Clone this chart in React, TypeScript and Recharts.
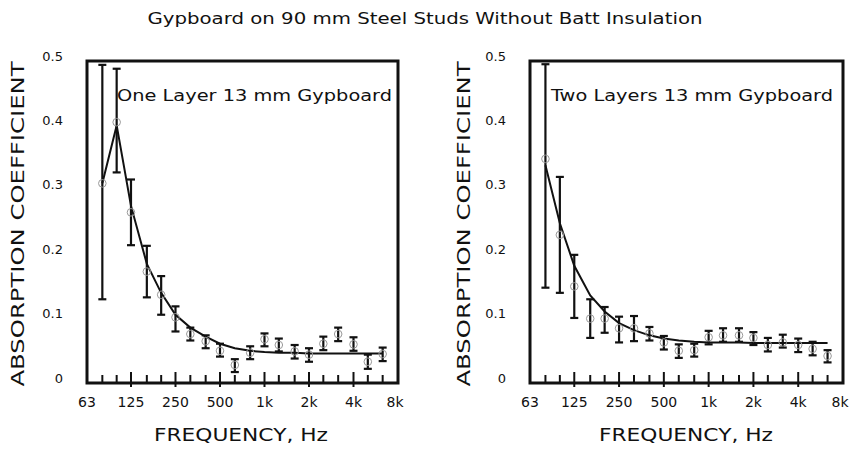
import React from "react";
import {
  ComposedChart,
  Line,
  Scatter,
  ErrorBar,
  XAxis,
  YAxis,
  ReferenceArea,
} from "recharts";

// 1/3-octave band centres
const freqs = [80, 100, 125, 160, 200, 250, 315, 400, 500, 630, 800, 1000, 1250, 1600, 2000, 2500, 3150, 4000, 5000, 6300];

// one layer 13 mm gypboard
const oneMean = [0.31, 0.405, 0.265, 0.173, 0.137, 0.102, 0.076, 0.065, 0.05, 0.028, 0.047, 0.068, 0.059, 0.049, 0.044, 0.061, 0.076, 0.06, 0.033, 0.045];
const oneLow = [0.13, 0.327, 0.214, 0.133, 0.106, 0.08, 0.066, 0.054, 0.041, 0.017, 0.037, 0.057, 0.049, 0.038, 0.033, 0.051, 0.065, 0.05, 0.022, 0.034];
const oneHigh = [0.494, 0.488, 0.316, 0.213, 0.166, 0.119, 0.086, 0.074, 0.061, 0.037, 0.057, 0.077, 0.069, 0.059, 0.054, 0.072, 0.086, 0.071, 0.044, 0.055];
const oneFit = [0.31, 0.4, 0.275, 0.185, 0.14, 0.106, 0.086, 0.072, 0.061, 0.054, 0.05, 0.048, 0.047, 0.047, 0.046, 0.046, 0.046, 0.046, 0.046, 0.046];

// two layers 13 mm gypboard
const twoMean = [0.348, 0.23, 0.15, 0.1, 0.1, 0.085, 0.085, 0.077, 0.063, 0.05, 0.051, 0.071, 0.074, 0.074, 0.07, 0.059, 0.063, 0.059, 0.053, 0.042];
const twoLow = [0.148, 0.14, 0.101, 0.07, 0.078, 0.063, 0.065, 0.066, 0.052, 0.039, 0.041, 0.06, 0.064, 0.064, 0.059, 0.049, 0.055, 0.048, 0.043, 0.032];
const twoHigh = [0.495, 0.32, 0.199, 0.13, 0.118, 0.103, 0.104, 0.087, 0.073, 0.06, 0.061, 0.081, 0.085, 0.085, 0.079, 0.07, 0.075, 0.069, 0.064, 0.051];
const twoFit = [0.338, 0.248, 0.182, 0.136, 0.111, 0.093, 0.082, 0.074, 0.069, 0.066, 0.064, 0.063, 0.063, 0.063, 0.062, 0.062, 0.062, 0.062, 0.062, 0.062];

const xTicks = [63, 80, 100, 125, 160, 200, 250, 315, 400, 500, 630, 800, 1000, 1250, 1600, 2000, 2500, 3150, 4000, 5000, 6300, 8000];
const xLabels: Record<number, string> = { 63: "63", 125: "125", 250: "250", 500: "500", 1000: "1k", 2000: "2k", 4000: "4k", 8000: "8k" };
const yTicks = [0, 0.1, 0.2, 0.3, 0.4, 0.5];

const FONT = "'DejaVu Sans', sans-serif";
const INK = "#111";

function buildRows(mean: number[], low: number[], high: number[], fit: number[]) {
  return freqs.map((f, i) => ({
    freq: f,
    mean: mean[i],
    fit: fit[i],
    err: [mean[i] - low[i], high[i] - mean[i]],
  }));
}

const XTick = (props: any) => {
  const { x, y, payload } = props;
  const v = payload.value;
  const label = xLabels[v];
  const edge = v === 63 || v === 8000;
  const major = label !== undefined && !edge;
  return (
    <g>
      {!edge && (
        <line x1={x} x2={x} y1={y - (major ? 11 : 8)} y2={y + (major ? 4 : 0)} stroke={INK} strokeWidth={2} />
      )}
      {label && (
        <text x={v === 8000 ? x - 3 : x} y={y + 20} textAnchor="middle" dominantBaseline="middle" fontSize={14} fontFamily={FONT} fill={INK}>
          {label}
        </text>
      )}
    </g>
  );
};

const YTick = (props: any) => {
  const { x, y, payload } = props;
  const v = payload.value;
  return (
    <text x={x - 24} y={y - 4} textAnchor="end" dominantBaseline="middle" fontSize={13} fontFamily={FONT} fill={INK}>
      {v === 0 ? "0" : v.toFixed(1)}
    </text>
  );
};

function Panel({ rows, left, width, right }: { rows: any[]; left: number; width: number; right: number }) {
  return (
    <div style={{ position: "absolute", left, top: 0 }}>
      <ComposedChart width={width} height={450} data={rows} margin={{ top: 61, right, bottom: 37, left: 0 }}>
        <XAxis
          dataKey="freq"
          type="number"
          scale="log"
          domain={[63, 8000]}
          ticks={xTicks}
          interval={0}
          allowDataOverflow
          axisLine={false}
          tickLine={false}
          tickSize={0}
          tickMargin={0}
          height={30}
          tick={<XTick />}
        />
        <YAxis
          type="number"
          domain={[0, 0.5]}
          ticks={yTicks}
          axisLine={false}
          tickLine={false}
          tickSize={0}
          tickMargin={0}
          width={87}
          tick={<YTick />}
        />
        <ReferenceArea x1={63} x2={8000} y1={0} y2={0.5} fill="none" stroke={INK} strokeWidth={3} ifOverflow="visible" />
        <Line dataKey="fit" type="linear" stroke={INK} strokeWidth={2} dot={false} isAnimationActive={false} />
        <Scatter
          dataKey="mean"
          isAnimationActive={false}
          shape={(p: any) => <circle cx={p.cx} cy={p.cy} r={3.8} fill="none" stroke="#999" strokeWidth={1} />}
        >
          <ErrorBar dataKey="err" direction="y" width={4} stroke={INK} strokeWidth={2.2} />
        </Scatter>
      </ComposedChart>
    </div>
  );
}

export default function App() {
  const oneRows = buildRows(oneMean, oneLow, oneHigh, oneFit);
  const twoRows = buildRows(twoMean, twoLow, twoHigh, twoFit);
  return (
    <div style={{ position: "absolute", left: 0, top: 0, width: 850, height: 450, background: "#fff", fontFamily: FONT }}>
      <svg width={850} height={450} style={{ position: "absolute", left: 0, top: 0 }}>
        <text x={425} y={19} textAnchor="middle" dominantBaseline="middle" fontSize={16} fontFamily={FONT} fill={INK} textLength={555} lengthAdjust="spacingAndGlyphs">
          Gypboard on 90 mm Steel Studs Without Batt Insulation
        </text>
        {[19, 465].map((cx) => (
          <text key={cx} x={cx} y={224} transform={`rotate(-90 ${cx} 224)`} textAnchor="middle" dominantBaseline="middle" fontSize={17} fontFamily={FONT} fill={INK} textLength={325} lengthAdjust="spacingAndGlyphs">
            ABSORPTION COEFFICIENT
          </text>
        ))}
        {[241, 686].map((cx) => (
          <text key={cx} x={cx} y={436} textAnchor="middle" dominantBaseline="middle" fontSize={17} fontFamily={FONT} fill={INK} textLength={174} lengthAdjust="spacingAndGlyphs">
            FREQUENCY, Hz
          </text>
        ))}
      </svg>
      <Panel rows={oneRows} left={0} width={425} right={27} />
      <Panel rows={twoRows} left={443} width={407} right={7} />
      <svg width={850} height={450} style={{ position: "absolute", left: 0, top: 0, pointerEvents: "none" }}>
        <text x={117} y={96} dominantBaseline="middle" fontSize={15} fontFamily={FONT} fill={INK} textLength={275} lengthAdjust="spacingAndGlyphs">
          One Layer 13 mm Gypboard
        </text>
        <text x={551} y={96} dominantBaseline="middle" fontSize={15} fontFamily={FONT} fill={INK} textLength={282} lengthAdjust="spacingAndGlyphs">
          Two Layers 13 mm Gypboard
        </text>
      </svg>
    </div>
  );
}
